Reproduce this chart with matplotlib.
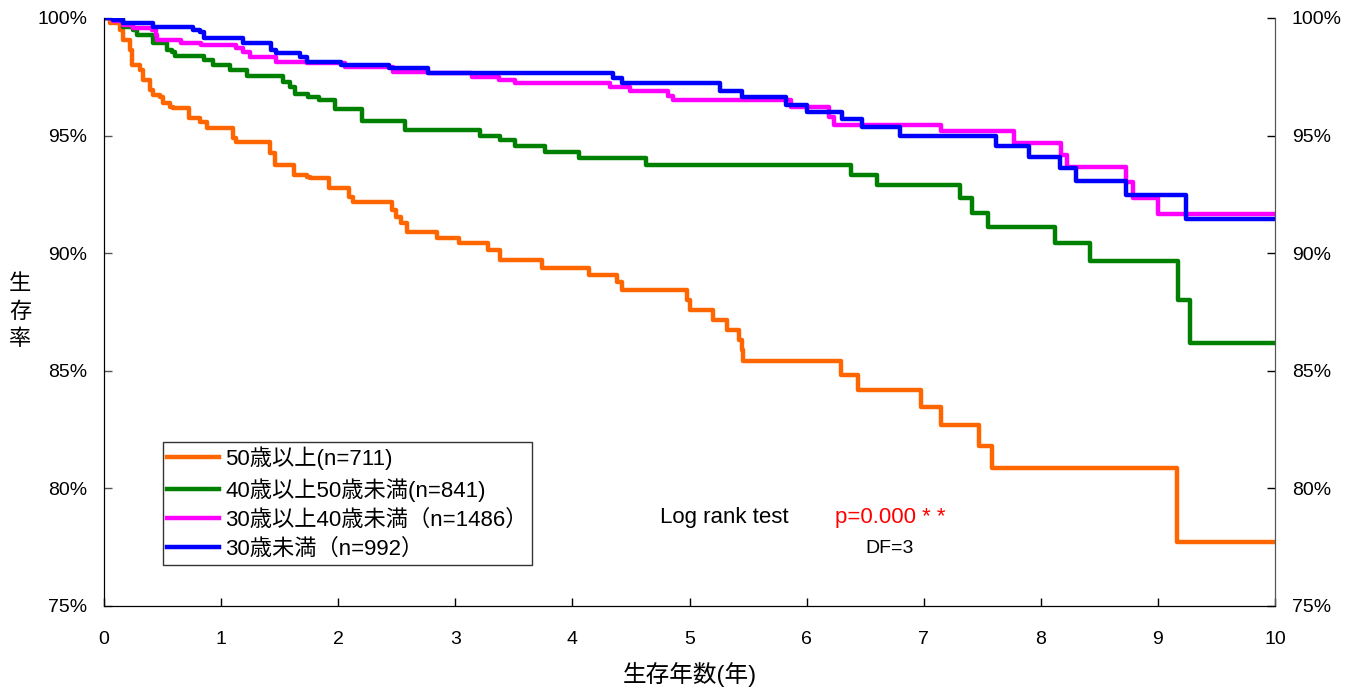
import matplotlib
matplotlib.use("Agg")
import matplotlib.pyplot as plt

plt.rcParams['font.family'] = ['Liberation Sans', 'Noto Sans CJK JP', 'DejaVu Sans']

# ---- data (time in years, survival in %) ----
labels = ["50歳以上(n=711)", "40歳以上50歳未満(n=841)",
          "30歳以上40歳未満（n=1486）", "30歳未満（n=992）"]
colors = ["#FF6600", "#008000", "#FF00FF", "#0000FF"]

t_50 = [0.05, 0.14, 0.16, 0.22, 0.24, 0.31, 0.33, 0.39, 0.42, 0.48, 0.50, 0.56, 0.59,
        0.73, 0.82, 0.88, 1.10, 1.13, 1.42, 1.46, 1.62, 1.73, 1.76, 1.92, 2.09, 2.13,
        2.46, 2.49, 2.54, 2.59, 2.84, 3.03, 3.28, 3.38, 3.74, 4.14, 4.38, 4.42, 4.98,
        5.00, 5.20, 5.32, 5.42, 5.45, 5.46, 6.29, 6.44, 6.98, 7.15, 7.47, 7.58, 9.16]
s_50 = [99.77, 99.49, 99.06, 98.64, 98.00, 97.79, 97.36, 96.94, 96.73, 96.64, 96.39, 96.22, 96.16,
        95.74, 95.59, 95.31, 94.89, 94.74, 94.25, 93.75, 93.32, 93.25, 93.18, 92.76, 92.40, 92.19,
        91.84, 91.55, 91.27, 90.91, 90.63, 90.42, 90.14, 89.71, 89.36, 89.07, 88.79, 88.44, 88.01,
        87.59, 87.16, 86.73, 86.31, 85.88, 85.43, 84.82, 84.18, 83.47, 82.70, 81.80, 80.85, 77.73]

t_40 = [0.16, 0.25, 0.28, 0.42, 0.54, 0.58, 0.61, 0.85, 0.93, 1.08, 1.22, 1.53, 1.59, 1.63,
        1.74, 1.84, 1.97, 2.20, 2.57, 3.21, 3.38, 3.51, 3.77, 4.06, 4.63, 6.38, 6.60, 7.31,
        7.41, 7.55, 8.12, 8.42, 9.17, 9.27]
s_40 = [99.63, 99.49, 99.28, 98.92, 98.64, 98.57, 98.38, 98.21, 98.00, 97.79, 97.53, 97.29, 97.08, 96.77,
        96.63, 96.51, 96.12, 95.62, 95.24, 94.98, 94.81, 94.56, 94.32, 94.06, 93.75, 93.32, 92.90, 92.33,
        91.72, 91.13, 90.42, 89.67, 88.01, 86.17]

t_30 = [0.08, 0.16, 0.25, 0.41, 0.44, 0.45, 0.66, 0.83, 1.13, 1.19, 1.25, 1.47, 1.73, 2.06,
        2.47, 2.77, 3.14, 3.37, 3.51, 4.32, 4.49, 4.82, 4.86, 5.87, 6.19, 6.23, 7.15, 7.77,
        8.17, 8.22, 8.73, 8.79, 9.00]
s_30 = [99.87, 99.70, 99.56, 99.49, 99.28, 99.06, 98.92, 98.85, 98.71, 98.57, 98.35, 98.14, 98.07, 97.93,
        97.72, 97.65, 97.50, 97.36, 97.25, 97.05, 96.91, 96.68, 96.51, 96.23, 95.78, 95.45, 95.20, 94.70,
        94.18, 93.65, 93.04, 92.33, 91.67]

t_u30 = [0.08, 0.16, 0.42, 0.76, 0.82, 0.85, 1.19, 1.43, 1.47, 1.67, 1.73, 2.02, 2.43, 2.77,
         4.35, 4.42, 5.26, 5.45, 5.82, 6.00, 6.30, 6.47, 6.80, 7.62, 7.90, 8.16, 8.30, 8.73, 9.24]
s_u30 = [99.91, 99.77, 99.63, 99.49, 99.42, 99.14, 98.92, 98.64, 98.50, 98.35, 98.14, 98.00, 97.86, 97.65,
         97.44, 97.22, 96.91, 96.63, 96.30, 96.02, 95.69, 95.35, 94.98, 94.56, 94.10, 93.61, 93.08, 92.47, 91.44]

x_ticks = list(range(0, 11))
y_ticks = [75, 80, 85, 90, 95, 100]
y_ticklabels = ["75%", "80%", "85%", "90%", "95%", "100%"]

# ---- figure ----
fig = plt.figure(figsize=(13.53, 6.93), dpi=100)
ax = fig.add_axes([104/1353, 1-606/693, (1275-104)/1353, (606-18)/693])

series = [(t_50, s_50), (t_40, s_40), (t_30, s_30), (t_u30, s_u30)]
for (tt, ss), lab, c in zip(series, labels, colors):
    xs = [0] + tt + [10]
    ys = [100] + ss + [ss[-1]]
    ax.step(xs, ys, where='post', color=c, lw=3.2, label=lab, solid_joinstyle='round')

ax.set_xlim(0, 10)
ax.set_ylim(75, 100)
ax.set_xticks(x_ticks)
ax.set_xticklabels([str(v) for v in x_ticks], fontsize=14)
ax.set_yticks(y_ticks)
ax.set_yticklabels(y_ticklabels, fontsize=14)
ax.tick_params(axis='x', direction='in', length=6, width=1, pad=18)
ax.tick_params(axis='y', direction='in', length=6, width=1, pad=12, color='#555555')
ax.spines['top'].set_visible(False)
ax.spines['right'].set_color('#555555')

ax2 = ax.twinx()
ax2.set_ylim(75, 100)
ax2.set_yticks(y_ticks)
ax2.set_yticklabels(y_ticklabels, fontsize=14)
ax2.tick_params(axis='y', direction='in', length=6, width=1, pad=12)
ax2.spines['top'].set_visible(False)
ax2.spines['right'].set_color('#555555')

ax.set_xlabel("生存年数(年)", fontsize=17, labelpad=10)
fig.text(20/1353, 1-312/693, "生\n存\n率", fontsize=16, ha='center', va='center', linespacing=1.4)

leg = ax.legend(loc='upper left', bbox_to_anchor=((163-104)/1171, (606-442)/588),
                fontsize=16, frameon=True, fancybox=False, borderpad=0.2,
                labelspacing=0.36, handlelength=2.3, handletextpad=0.3, borderaxespad=0)
leg.get_frame().set_edgecolor('black')
leg.get_frame().set_linewidth(1)

ax.text((660-104)/1171*10, 75 + (606-518)/588*25, "Log rank test", fontsize=16,
        ha='left', va='center')
ax.text((835-104)/1171*10, 75 + (606-518)/588*25, "p=0.000 * *", fontsize=16,
        ha='left', va='center', color='#FF0000')
ax.text((890-104)/1171*10, 75 + (606-548)/588*25, "DF=3", fontsize=14,
        ha='center', va='center')

fig.savefig("out.png", dpi=100)
